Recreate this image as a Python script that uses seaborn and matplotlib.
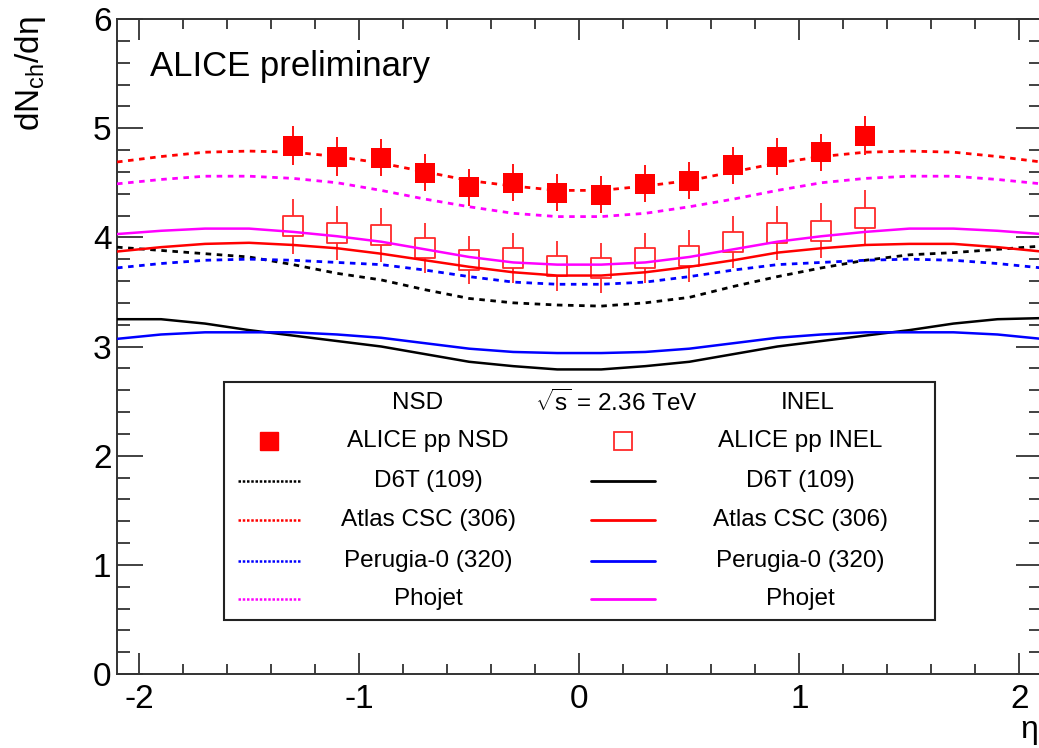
import numpy as np
import pandas as pd
import matplotlib
matplotlib.use("Agg")
import matplotlib.pyplot as plt
import seaborn as sns
from matplotlib.ticker import MultipleLocator
from matplotlib.patches import Rectangle
from matplotlib.lines import Line2D

# ---------------- data ----------------
eta_data = [-1.3, -1.1, -0.9, -0.7, -0.5, -0.3, -0.1, 0.1, 0.3, 0.5, 0.7, 0.9, 1.1, 1.3]
nsd_vals = [4.84, 4.74, 4.73, 4.59, 4.46, 4.50, 4.41, 4.39, 4.49, 4.52, 4.66, 4.74, 4.78, 4.93]
nsd_err = [0.18, 0.18, 0.17, 0.17, 0.17, 0.17, 0.17, 0.17, 0.17, 0.17, 0.17, 0.17, 0.17, 0.18]
inel_vals = [4.10, 4.04, 4.02, 3.90, 3.79, 3.81, 3.74, 3.72, 3.81, 3.83, 3.96, 4.04, 4.06, 4.18]
inel_err = [0.25, 0.25, 0.25, 0.23, 0.22, 0.23, 0.23, 0.23, 0.23, 0.24, 0.24, 0.25, 0.25, 0.25]

eta_mc = [-2.1, -1.9, -1.7, -1.5, -1.3, -1.1, -0.9, -0.7, -0.5, -0.3, -0.1,
          0.1, 0.3, 0.5, 0.7, 0.9, 1.1, 1.3, 1.5, 1.7, 1.9, 2.1]
d6t_nsd = [3.91, 3.88, 3.85, 3.82, 3.75, 3.67, 3.61, 3.52, 3.44, 3.40, 3.38,
           3.37, 3.40, 3.45, 3.55, 3.64, 3.72, 3.79, 3.84, 3.86, 3.89, 3.92]
atlas_nsd = [4.69, 4.74, 4.78, 4.79, 4.78, 4.74, 4.68, 4.60, 4.52, 4.47, 4.43,
             4.43, 4.47, 4.52, 4.60, 4.68, 4.74, 4.78, 4.79, 4.78, 4.74, 4.69]
perugia_nsd = [3.72, 3.76, 3.79, 3.80, 3.79, 3.77, 3.75, 3.70, 3.64, 3.59, 3.57,
               3.57, 3.59, 3.64, 3.70, 3.75, 3.77, 3.79, 3.80, 3.79, 3.76, 3.72]
phojet_nsd = [4.49, 4.53, 4.56, 4.56, 4.54, 4.50, 4.43, 4.35, 4.28, 4.22, 4.19,
              4.19, 4.22, 4.28, 4.35, 4.43, 4.50, 4.54, 4.56, 4.56, 4.53, 4.49]
d6t_inel = [3.25, 3.25, 3.21, 3.15, 3.10, 3.05, 3.00, 2.93, 2.86, 2.82, 2.79,
            2.79, 2.82, 2.86, 2.93, 3.00, 3.05, 3.10, 3.15, 3.21, 3.25, 3.26]
atlas_inel = [3.87, 3.91, 3.94, 3.95, 3.93, 3.90, 3.85, 3.79, 3.73, 3.68, 3.65,
              3.65, 3.68, 3.73, 3.79, 3.86, 3.90, 3.93, 3.94, 3.94, 3.91, 3.87]
perugia_inel = [3.07, 3.11, 3.13, 3.13, 3.13, 3.11, 3.08, 3.03, 2.98, 2.95, 2.94,
                2.94, 2.95, 2.98, 3.03, 3.08, 3.11, 3.13, 3.13, 3.13, 3.11, 3.07]
phojet_inel = [4.03, 4.06, 4.08, 4.08, 4.05, 4.01, 3.96, 3.89, 3.82, 3.77, 3.75,
               3.75, 3.77, 3.82, 3.89, 3.96, 4.01, 4.05, 4.08, 4.08, 4.06, 4.03]

model_names = ["D6T (109)", "Atlas CSC (306)", "Perugia-0 (320)", "Phojet"]
model_colors = ["#000000", "#ff0000", "#0000ff", "#ff00ff"]
nsd_curves = [d6t_nsd, atlas_nsd, perugia_nsd, phojet_nsd]
inel_curves = [d6t_inel, atlas_inel, perugia_inel, phojet_inel]

x_ticks = [-2, -1, 0, 1, 2]
y_ticks = [0, 1, 2, 3, 4, 5, 6]

# ---------------- style ----------------
sns.set_theme(style="ticks")
plt.rcParams["font.family"] = ["Liberation Sans", "DejaVu Sans"]
plt.rcParams["axes.unicode_minus"] = False
plt.rcParams["mathtext.fontset"] = "custom"
plt.rcParams["mathtext.rm"] = "Liberation Sans"
plt.rcParams["mathtext.it"] = "Liberation Sans"
plt.rcParams["text.color"] = "black"
plt.rcParams["axes.labelcolor"] = "black"
plt.rcParams["xtick.color"] = "black"
plt.rcParams["ytick.color"] = "black"

fig = plt.figure(figsize=(10.39, 7.48), dpi=100, facecolor="white")
ax = fig.add_axes([117 / 1039, 1 - 674 / 748, (1041.5 - 117) / 1039, (674 - 19) / 748])
ax.set_facecolor("white")

dot = (0, (2.0, 2.0))
for name, col, yv in zip(model_names, model_colors, nsd_curves):
    df = pd.DataFrame({"eta": eta_mc, "val": yv})
    sns.lineplot(data=df, x="eta", y="val", ax=ax, color=col, lw=2.0,
                 linestyle=dot, zorder=4)
for name, col, yv in zip(model_names, model_colors, inel_curves):
    df = pd.DataFrame({"eta": eta_mc, "val": yv})
    sns.lineplot(data=df, x="eta", y="val", ax=ax, color=col, lw=1.8, zorder=4)

# data points
ax.errorbar(eta_data, nsd_vals, yerr=nsd_err, fmt="none", ecolor="#ff0000",
            elinewidth=1.3, zorder=2)
ax.errorbar(eta_data, inel_vals, yerr=inel_err, fmt="none", ecolor="#ff2a2a",
            elinewidth=1.3, zorder=2)
dfn = pd.DataFrame({"eta": eta_data, "val": nsd_vals})
dfi = pd.DataFrame({"eta": eta_data, "val": inel_vals})
sns.scatterplot(data=dfn, x="eta", y="val", ax=ax, marker="s", s=205,
                color="#ff0000", edgecolor="#ff0000", linewidth=0, zorder=3)
sns.scatterplot(data=dfi, x="eta", y="val", ax=ax, marker="s", s=205,
                facecolor="white", edgecolor="#ff2a2a", linewidth=1.3, zorder=3)

ax.set_xlim(-2.1, 2.1)
ax.set_ylim(0, 6)
ax.set_xlabel("")
ax.set_ylabel("")
ax.set_xticks(x_ticks)
ax.set_yticks(y_ticks)
ax.set_xticklabels([str(t) for t in x_ticks])
ax.set_yticklabels([str(t) for t in y_ticks])
ax.xaxis.set_minor_locator(MultipleLocator(0.2))
ax.yaxis.set_minor_locator(MultipleLocator(0.2))
ax.tick_params(axis="x", which="major", direction="in", length=15, width=1.3,
               top=True, labelsize=24, pad=7, colors="#333333", labelcolor="black")
ax.tick_params(axis="x", which="minor", direction="in", length=7, width=1.3,
               top=True, colors="#333333")
ax.tick_params(axis="y", which="major", direction="in", length=19, width=1.3,
               right=True, labelsize=24, pad=4, colors="#333333", labelcolor="black")
ax.tick_params(axis="y", which="minor", direction="in", length=9.5, width=1.3,
               right=True, colors="#333333")
for sp in ax.spines.values():
    sp.set_linewidth(1.4)
    sp.set_color("#333333")
    sp.set_visible(True)

# axis titles
fig.text(31 / 1039, 1 - 16 / 748, "dN$_{\\mathrm{ch}}$/dη", rotation=90,
         ha="center", va="top", fontsize=24)
fig.text(1038 / 1039, 1 - 730 / 748, "η", ha="right", va="center", fontsize=23)

# annotation
ax.text(0.036, 0.928, "ALICE preliminary", transform=ax.transAxes,
        fontsize=25, ha="left", va="center")

# ---------------- legend (manual, ROOT style) ----------------
T = ax.transAxes
ax.add_patch(Rectangle((0.1157, 0.0824), 0.8848 - 0.1157, 0.4458 - 0.0824,
                       transform=T, facecolor="white", edgecolor="#222222",
                       lw=1.5, zorder=6))
rows = [0.4137, 0.3557, 0.2947, 0.2351, 0.1725, 0.1145]
fs = 17.5
ax.text(0.3256, rows[0], "NSD", transform=T, ha="center", va="center", fontsize=fs, zorder=7)
ax.text(0.5397, rows[0], r"$\sqrt{\mathrm{s}}$ = 2.36 TeV", transform=T,
        ha="center", va="center", fontsize=fs, zorder=7)
ax.text(0.7474, rows[0], "INEL", transform=T, ha="center", va="center", fontsize=fs, zorder=7)

ax.add_line(Line2D([0.1644], [rows[1]], transform=T, marker="s", markersize=13,
                   color="#ff0000", lw=0, zorder=7))
ax.text(0.3364, rows[1], "ALICE pp NSD", transform=T, ha="center", va="center",
        fontsize=fs, zorder=7)
ax.add_line(Line2D([0.5473], [rows[1]], transform=T, marker="s", markersize=13,
                   markerfacecolor="white", markeredgecolor="#ff2a2a",
                   markeredgewidth=1.3, lw=0, zorder=7))
ax.text(0.7388, rows[1], "ALICE pp INEL", transform=T, ha="center", va="center",
        fontsize=fs, zorder=7)

for i, (name, col) in enumerate(zip(model_names, model_colors)):
    r = rows[2 + i]
    ax.add_line(Line2D([0.1309, 0.1979], [r, r], transform=T, color=col, lw=1.8,
                       linestyle=(0, (1.0, 0.7)), zorder=7))
    ax.text(0.3364, r, name, transform=T, ha="center", va="center", fontsize=fs, zorder=7)
    ax.add_line(Line2D([0.5127, 0.5819], [r, r], transform=T, color=col, lw=2.0, zorder=7))
    ax.text(0.7388, r, name, transform=T, ha="center", va="center", fontsize=fs, zorder=7)

fig.savefig("out.png", dpi=100, facecolor="white")
